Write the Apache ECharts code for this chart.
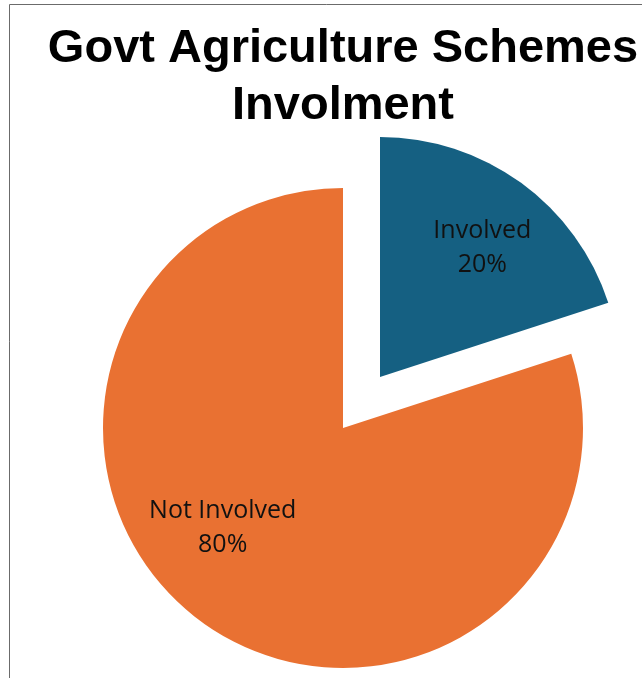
<!DOCTYPE html>
<html><head><meta charset="utf-8">
<script src="https://cdn.jsdelivr.net/npm/echarts@6/dist/echarts.min.js"></script>
<style>html,body{margin:0;padding:0;background:#fff}#c{width:642px;height:678px}</style>
</head><body><div id="c"></div>
<script>
const categories = ['Involved', 'Not Involved'];
const values = [20, 80];
const colors = ['#156082', '#E97132'];
const titleText = 'Govt Agriculture Schemes\nInvolment';

const labelShift = [[30, -30], [-48, 0]];

const chart = echarts.init(document.getElementById('c'));
chart.setOption({
  animation: false,
  title: {
    text: titleText,
    left: 338, top: 16, textAlign: 'center',
    textStyle: { fontFamily: 'Liberation Sans', fontWeight: 'bold', fontSize: 47, lineHeight: 57, color: '#000' }
  },
  graphic: [{ type: 'rect', shape: { x: 9.5, y: 4.5, width: 800, height: 800 }, style: { fill: 'none', stroke: '#6b6b6b', lineWidth: 1 }, silent: true, z: 100 }],
  series: [{
    type: 'pie',
    center: [343, 428],
    radius: 240,
    startAngle: 90,
    clockwise: true,
    avoidLabelOverlap: false,
    selectedMode: 'single',
    selectedOffset: 63,
    label: { show: true, position: 'inside', formatter: '{b}\n{d}%', fontFamily: 'Open Sans', fontSize: 25, lineHeight: 34, color: '#111' },
    labelLine: { show: false },
    emphasis: { disabled: true },
    labelLayout: function (p) { return { dx: labelShift[p.dataIndex][0], dy: labelShift[p.dataIndex][1] }; },
    data: categories.map((c, i) => ({ name: c, value: values[i], selected: i === 0, itemStyle: { color: colors[i] } }))
  }]
});
</script></body></html>
